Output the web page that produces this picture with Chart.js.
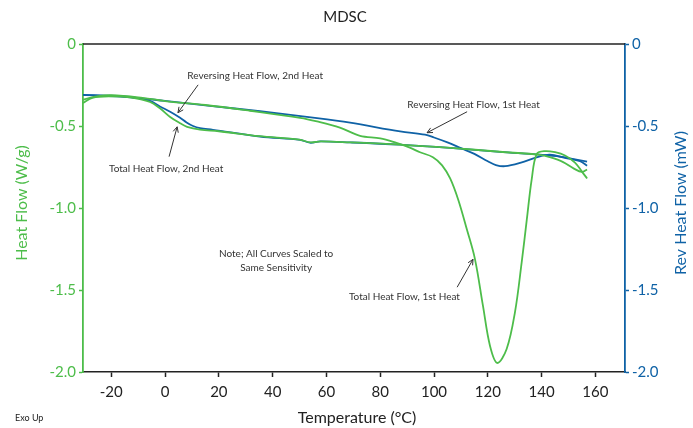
<!DOCTYPE html>
<html>
<head>
<meta charset="utf-8">
<script src="https://cdn.jsdelivr.net/npm/chart.js@4"></script>
<style>
  html, body { margin: 0; padding: 0; background: #fff; }
  #wrap { width: 693px; height: 428px; }
</style>
</head>
<body>
<div id="wrap"><canvas id="mdsc" width="693" height="428"></canvas></div>
<script>
// Temperature (°C) and signal values
const totalHeat1T = [-30.5, -25, -20, -10, 0, 15, 31.6, 50.2, 56.5, 65, 72.5, 80, 85.5, 91, 94.8, 99.6, 103, 106, 109, 112.2, 115.2, 118.2, 120.8, 123.5, 127, 130.1, 132.6, 134.5, 136.3, 138.2, 141.3, 145, 148.7, 152.4, 155, 156.9]
const totalHeat1 = [-0.34, -0.318, -0.312, -0.325, -0.348, -0.372, -0.407, -0.45, -0.472, -0.51, -0.56, -0.575, -0.6, -0.632, -0.66, -0.69, -0.74, -0.82, -0.95, -1.13, -1.31, -1.597, -1.84, -1.945, -1.86, -1.635, -1.33, -1.07, -0.827, -0.67, -0.653, -0.66, -0.68, -0.723, -0.778, -0.82]

const totalHeat2T = [-30.5, -27, -20.4, -13, -5.6, -1.9, 1.9, 5.6, 8.2, 13, 20, 35, 50, 54, 58, 69, 87, 106, 124.5, 139.4, 143, 148, 152, 155, 156.9]
const totalHeat2 = [-0.359, -0.328, -0.319, -0.325, -0.353, -0.392, -0.445, -0.483, -0.505, -0.522, -0.532, -0.562, -0.583, -0.6, -0.594, -0.6, -0.613, -0.633, -0.657, -0.676, -0.69, -0.72, -0.76, -0.78, -0.765]

const revHeat1T = [-30.5, -13, 0, 16.7, 35.3, 56.5, 68.8, 87.4, 96.7, 100, 105, 110, 115, 120, 123, 126.4, 132, 139.4, 143.1, 148.7, 154.3, 156.9]
const revHeat1 = [-0.31, -0.325, -0.347, -0.377, -0.41, -0.452, -0.48, -0.533, -0.553, -0.57, -0.6, -0.635, -0.67, -0.715, -0.738, -0.745, -0.725, -0.685, -0.675, -0.695, -0.715, -0.742]

const revHeat2T = [-30.5, -13, -5.6, -1.9, 1.9, 5.6, 8, 10.4, 13, 17.8, 35.3, 50.2, 53.9, 57.6, 68.8, 87.4, 106, 124.5, 139.4, 146.8, 156.9]
const revHeat2 = [-0.31, -0.322, -0.347, -0.381, -0.413, -0.45, -0.478, -0.5, -0.513, -0.523, -0.564, -0.584, -0.602, -0.594, -0.6, -0.614, -0.634, -0.658, -0.675, -0.687, -0.717]

const xTicks = [-20, 0, 20, 40, 60, 80, 100, 120, 140, 160]
const yTicks = [0, -0.5, -1.0, -1.5, -2.0]

// annotations: [text, textT, textV, arrowFromT, arrowFromV, arrowToT, arrowToV]
const notes = [
    ["Reversing Heat Flow, 2nd Heat", 33.5, -0.195, 12.3, -0.249, 4.8, -0.419],
    ["Reversing Heat Flow, 1st Heat", 114.7, -0.371, 112.3, -0.413, 97.4, -0.541],
    ["Total Heat Flow, 2nd Heat", 0.4, -0.76, 1.5, -0.687, 4.5, -0.505],
    ["Total Heat Flow, 1st Heat", 89, -1.544, 108.6, -1.483, 114.5, -1.313],
]
const sensNote = ["Note; All Curves Scaled to", "Same Sensitivity"]

const GREEN = "#4dbd4a"
const BLUE = "#0f62a6"
const FONT = "Lato, 'DejaVu Sans', sans-serif"

const pts = (xs, ys) => xs.map((x, i) => ({ x: x, y: ys[i] }))

const decor = {
    id: "decor",
    afterDraw(chart) {
        const ctx = chart.ctx
        const a = chart.chartArea
        const sx = chart.scales.x
        const sy = chart.scales.y
        ctx.save()
        // top frame line
        ctx.strokeStyle = "#222"
        ctx.lineWidth = 1.5
        ctx.beginPath()
        ctx.moveTo(a.left, a.top)
        ctx.lineTo(a.right, a.top)
        ctx.stroke()

        ctx.fillStyle = "#222"
        ctx.textAlign = "center"
        ctx.textBaseline = "middle"
        ctx.font = "15px " + FONT
        ctx.fillText("MDSC", 345, 17)
        ctx.font = "16px " + FONT
        ctx.fillText("Temperature (°C)", 357, 418)
        ctx.font = "9px " + FONT
        ctx.textAlign = "left"
        ctx.fillText("Exo Up", 15, 418)

        // axis titles
        ctx.font = "16px " + FONT
        ctx.textAlign = "center"
        ctx.save()
        ctx.translate(22, 203)
        ctx.rotate(-Math.PI / 2)
        ctx.fillStyle = GREEN
        ctx.fillText("Heat Flow (W/g)", 0, 0)
        ctx.restore()
        ctx.save()
        ctx.translate(681, 203)
        ctx.rotate(-Math.PI / 2)
        ctx.fillStyle = BLUE
        ctx.fillText("Rev Heat Flow (mW)", 0, 0)
        ctx.restore()

        // curve labels with arrows
        ctx.font = "10px " + FONT
        ctx.fillStyle = "#333"
        ctx.strokeStyle = "#333"
        ctx.lineWidth = 1
        for (const n of notes) {
            ctx.fillText(n[0], sx.getPixelForValue(n[1]), sy.getPixelForValue(n[2]))
            const x0 = sx.getPixelForValue(n[3]), y0 = sy.getPixelForValue(n[4])
            const x1 = sx.getPixelForValue(n[5]), y1 = sy.getPixelForValue(n[6])
            ctx.beginPath()
            ctx.moveTo(x0, y0)
            ctx.lineTo(x1, y1)
            ctx.stroke()
            const ang = Math.atan2(y1 - y0, x1 - x0)
            ctx.beginPath()
            ctx.moveTo(x1 - 6 * Math.cos(ang - 0.45), y1 - 6 * Math.sin(ang - 0.45))
            ctx.lineTo(x1, y1)
            ctx.lineTo(x1 - 6 * Math.cos(ang + 0.45), y1 - 6 * Math.sin(ang + 0.45))
            ctx.stroke()
        }
        ctx.fillText(sensNote[0], sx.getPixelForValue(41.3), sy.getPixelForValue(-1.277))
        ctx.fillText(sensNote[1], sx.getPixelForValue(41.3), sy.getPixelForValue(-1.362))
        ctx.restore()
    }
}

const lineDs = (label, data, color) => ({
    label: label,
    data: data,
    borderColor: color,
    borderWidth: 1.8,
    pointRadius: 0,
    showLine: true,
    fill: false,
    tension: 0.35,
    yAxisID: "y",
})

new Chart(document.querySelector("#mdsc"), {
    type: "scatter",
    data: {
        datasets: [
            lineDs("Total Heat Flow, 1st Heat", pts(totalHeat1T, totalHeat1), GREEN),
            lineDs("Total Heat Flow, 2nd Heat", pts(totalHeat2T, totalHeat2), GREEN),
            lineDs("Reversing Heat Flow, 1st Heat", pts(revHeat1T, revHeat1), BLUE),
            lineDs("Reversing Heat Flow, 2nd Heat", pts(revHeat2T, revHeat2), BLUE),
        ],
    },
    options: {
        responsive: false,
        animation: false,
        layout: { padding: { top: 44, left: 0, right: 0, bottom: 0 } },
        plugins: { legend: { display: false }, tooltip: { enabled: false } },
        scales: {
            x: {
                type: "linear",
                min: -30.5,
                max: 171,
                afterBuildTicks: s => { s.ticks = xTicks.map(v => ({ value: v })) },
                afterFit: s => { s.height = 56 },
                grid: { drawOnChartArea: false, color: "#222", tickLength: 5, tickWidth: 1.5 },
                border: { color: "#222", width: 1.5 },
                ticks: { color: "#222", font: { family: FONT, size: 15 }, padding: 6, maxRotation: 0 },
            },
            y: {
                position: "left",
                min: -2,
                max: 0,
                afterBuildTicks: s => { s.ticks = yTicks.map(v => ({ value: v })) },
                afterFit: s => { s.width = 83 },
                grid: { drawOnChartArea: false, color: GREEN, tickLength: 4, tickWidth: 1.5 },
                border: { color: GREEN, width: 1.8 },
                ticks: { color: GREEN, font: { family: FONT, size: 15 }, padding: 3,
                    callback: v => v === 0 ? "0" : v.toFixed(1) },
            },
            y2: {
                position: "right",
                min: -2,
                max: 0,
                afterBuildTicks: s => { s.ticks = yTicks.map(v => ({ value: v })) },
                afterFit: s => { s.width = 68 },
                grid: { drawOnChartArea: false, color: BLUE, tickLength: 4, tickWidth: 1.5 },
                border: { color: BLUE, width: 1.8 },
                ticks: { color: BLUE, font: { family: FONT, size: 15 }, padding: 3,
                    callback: v => v === 0 ? "0" : v.toFixed(1) },
            },
        },
    },
    plugins: [decor],
})
</script>
</body>
</html>
